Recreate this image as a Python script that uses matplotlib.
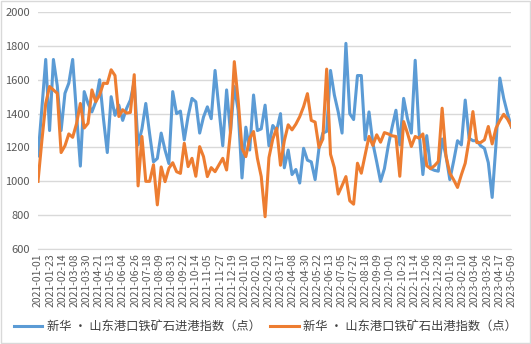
import numpy as np
import pandas as pd
import matplotlib
matplotlib.use('Agg')
import matplotlib.pyplot as plt
from matplotlib.patches import Rectangle

plt.rcParams['font.family'] = ['Noto Sans CJK SC', 'DejaVu Sans']

# ----- data -----
start_date = '2021-01-01'
end_date = '2023-05-09'

in_port = [1150, 1430, 1720, 1300, 1720, 1565, 1300, 1520, 1580, 1720,
           1400, 1090, 1530, 1460, 1410, 1470, 1600, 1370, 1170, 1500,
           1390, 1450, 1360, 1430, 1480, 1590, 1215, 1310, 1460, 1280,
           1115, 1135, 1285, 1185, 1105, 1530, 1400, 1415, 1245, 1385,
           1490, 1470, 1285, 1380, 1440, 1370, 1655, 1430, 1210, 1540,
           1290, 1560, 1420, 1020, 1320, 1185, 1510, 1300, 1310, 1450,
           1210, 1330, 1300, 1400, 1080, 1185, 1040, 1070, 990, 1195,
           1125, 1115, 1010, 1195, 1285, 1295, 1655, 1510, 1410, 1285,
           1815, 1400, 1365, 1625, 1625, 1245, 1410, 1225, 1115, 1000,
           1075, 1210, 1320, 1420, 1215, 1490, 1370, 1285, 1715, 1295,
           1040, 1270, 1075, 1065, 1060, 1250, 1150, 1010, 1120, 1240,
           1215, 1480, 1255, 1240, 1240, 1210, 1195, 1110, 905, 1220,
           1610, 1490, 1400, 1320]

out_port = [1000, 1240, 1460, 1560, 1540, 1520, 1170, 1210, 1280, 1260,
            1340, 1460, 1315, 1343, 1540, 1470, 1510, 1580, 1578, 1659,
            1625, 1383, 1423, 1403, 1407, 1630, 973, 1265, 1000, 1000,
            1098, 861, 1085, 998, 1077, 1110, 1057, 1047, 1225, 1087,
            1136, 1030, 1205, 1146, 1028, 1081, 1057, 1097, 1136, 1067,
            1290, 1707, 1480, 1195, 1146, 1254, 1294, 1136, 1028, 791,
            1140, 1250, 1314, 1095, 1240, 1334, 1304, 1338, 1382, 1441,
            1518, 1360, 1350, 1200, 1250, 1663, 1160, 1080, 925, 975,
            1028, 885, 865, 1107, 1048, 1157, 1265, 1212, 1275, 1231,
            1288, 1280, 1269, 1265, 1030, 1353, 1284, 1206, 1265, 1255,
            1280, 1092, 1075, 1092, 1117, 1432, 1150, 1048, 1009, 964,
            1039, 1107, 1245, 1412, 1229, 1229, 1245, 1324, 1221, 1314,
            1359, 1396, 1367, 1324]

label_in = '新华 · 山东港口铁矿石进港指数（点）'
label_out = '新华 · 山东港口铁矿石出港指数（点）'

dates = pd.date_range(start_date, end_date, periods=len(in_port))
tick_dates = pd.date_range(start_date, end_date, freq='22D')

# ----- plot -----
fig = plt.figure(figsize=(5.31, 3.44), dpi=100)
ax = fig.add_axes([0.0716, 0.276, 0.8915, 0.689])

ax.plot(dates, in_port, color='#5B9BD5', lw=2.2, label=label_in)
ax.plot(dates, out_port, color='#ED7D31', lw=2.2, label=label_out)

ax.set_ylim(600, 2000)
ax.set_yticks(np.arange(600, 2001, 200))
ax.set_xlim(pd.Timestamp(start_date), pd.Timestamp(end_date))
ax.set_xticks(tick_dates)
ax.set_xticklabels([d.strftime('%Y-%m-%d') for d in tick_dates],
                   rotation=90, fontsize=7.5, color='#595959')
ax.tick_params(axis='y', labelsize=8, colors='#595959', length=0, pad=6)
ax.tick_params(axis='x', length=0, pad=3)

ax.grid(axis='y', color='#d9d9d9', lw=1)
ax.set_axisbelow(True)
for s in ['top', 'right', 'left']:
    ax.spines[s].set_visible(False)
ax.spines['bottom'].set_color('#d9d9d9')

fig.legend(loc='lower center', bbox_to_anchor=(0.5, 0.0), ncol=2,
           frameon=False, fontsize=8.8, handlelength=2.3, columnspacing=0.8,
           handletextpad=0.4, labelcolor='#404040')

fig.patches.append(Rectangle((0.001, 0.002), 0.997, 0.995, transform=fig.transFigure,
                             fill=False, edgecolor='#d9d9d9', lw=1))

fig.savefig('out.png', dpi=100)
